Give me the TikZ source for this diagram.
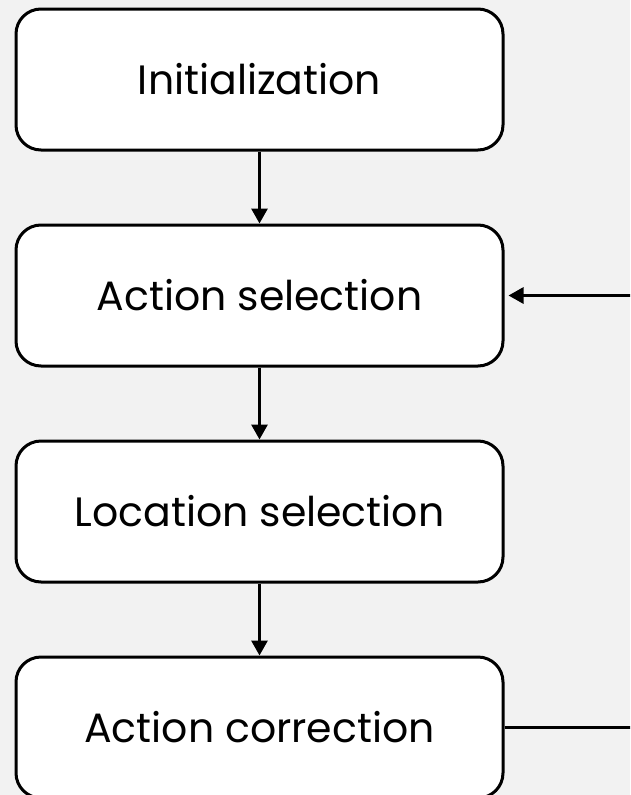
\documentclass[tikz,border=0pt]{standalone}
\usepackage{fontspec}
\setmainfont{Poppins}
\usetikzlibrary{arrows.meta}
\definecolor{canvas}{HTML}{F2F2F2}
\tikzset{
  stagebox/.style={draw=black, line width=3pt, fill=white, rounded corners=25pt,
    minimum width=487pt, minimum height=141pt, inner sep=0pt,
    font=\fontsize{41}{47}\selectfont},
  flow/.style={line width=3pt, -{Triangle[length=15pt,width=16pt]}},
  link/.style={line width=3pt}
}
\begin{document}
\begin{tikzpicture}[x=1pt, y=-1pt]
  \useasboundingbox (0,0) rectangle (630,795);
  \fill[canvas] (0,0) rectangle (630,795);
  \clip (0,0) rectangle (630,795);
  % process stages
  \node[stagebox] (init)  at (259.5, 79.5)  {Initialization};
  \node[stagebox] (act)   at (259.5, 295.5) {Action selection};
  \node[stagebox] (loc)   at (259.5, 511.5) {Location selection};
  \node[stagebox] (corr)  at (259.5, 727.5) {Action correction};
  % loop ends leaving the frame on the right
  \coordinate (loopin)  at (632, 295.5);
  \coordinate (loopout) at (632, 727.5);
  % connectors
  \draw[flow] (init) -- (act);
  \draw[flow] (act) -- (loc);
  \draw[flow] (loc) -- (corr);
  \draw[flow] (loopin) -- ([xshift=4pt]act.east);
  \draw[link] (corr.east) -- (loopout);
\end{tikzpicture}
\end{document}
